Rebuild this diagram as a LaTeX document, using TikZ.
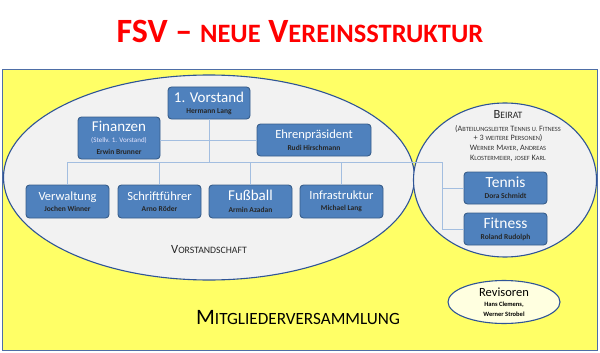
\documentclass[tikz,border=0pt]{standalone}
\usepackage{fontspec}
\setmainfont{Carlito}
\usetikzlibrary{shapes.geometric}
\makeatletter
\newcommand\lc[1]{{\fontsize{\strip@pt\dimexpr0.78\dimexpr\f@size pt\relax\relax}{0}\selectfont\MakeUppercase{#1}}}
\makeatother
\definecolor{yel}{HTML}{FFFF66}
\definecolor{ell}{HTML}{F2F2F2}
\definecolor{edge}{HTML}{2F5496}
\definecolor{boxf}{HTML}{4F81BD}
\definecolor{boxd}{HTML}{385D8A}
\definecolor{conn}{HTML}{A3BEE0}
\definecolor{rev}{HTML}{FFFFE0}
\definecolor{ttl}{HTML}{FF0000}
\tikzset{
  bluebox/.style={draw=boxd, line width=0.9pt, fill=boxf, rounded corners=3.5pt, align=center, inner sep=0pt, text=white},
  link/.style={draw=conn, line width=1pt},
}
\newcommand\nme[1]{{\fontsize{7.5}{8}\selectfont\bfseries\color{black!85}#1}}
\begin{document}
\begin{tikzpicture}[x=1pt,y=-1pt]
\useasboundingbox (0,0) rectangle (600,353);
\fill[white] (0,0) rectangle (600,353);
% title
\node[text=ttl, font=\fontsize{34}{34}\selectfont\bfseries] (title) at (300,31) {FSV – \lc{neue} V\lc{ereinsstruktur}};
% background
\draw[edge!85, line width=1pt, fill=yel] (2,70) rectangle (597,350);
\node[draw=edge, line width=1.1pt, fill=ell, ellipse, minimum width=411pt, minimum height=205pt, inner sep=0pt] (vs) at (209,177.5) {};
\node[draw=edge, line width=1.1pt, fill=ell, ellipse, minimum width=183pt, minimum height=154pt, inner sep=0pt] (br) at (505,180) {};
% coordinates
\coordinate (busL) at (67.5,162);
\coordinate (busR) at (442,162);
% boxes
\node[bluebox, minimum width=82pt, minimum height=32pt] (v1) at (209,103) {{\fontsize{15}{16}\selectfont 1. Vorstand}\\[-1pt]\nme{Hermann Lang}};
\node[bluebox, minimum width=82pt, minimum height=42pt] (fin) at (119,138) {{\fontsize{15}{16}\selectfont Finanzen}\\[-1pt]{\fontsize{7}{8}\selectfont\color{blue!10}(Stellv. 1. Vorstand)}\\[-0.5pt]\nme{Erwin Brunner}};
\node[bluebox, minimum width=114pt, minimum height=32pt] (ehr) at (314,140) {{\fontsize{12.5}{13}\selectfont Ehrenpräsident}\\[-0.5pt]\nme{Rudi Hirschmann}};
\node[bluebox, minimum width=83pt, minimum height=33pt] (verw) at (67.5,201.5) {{\fontsize{12.5}{13}\selectfont Verwaltung}\\[-0.5pt]\nme{Jochen Winner}};
\node[bluebox, minimum width=83pt, minimum height=33pt] (schr) at (159.5,201.5) {{\fontsize{12.5}{13}\selectfont Schriftführer}\\[-0.5pt]\nme{Arno Röder}};
\node[bluebox, minimum width=83pt, minimum height=33pt] (fuss) at (250.5,201.5) {{\fontsize{15}{15}\selectfont Fußball}\\[-0.5pt]\nme{Armin Azadan}};
\node[bluebox, minimum width=83pt, minimum height=33pt] (infra) at (341.5,201.5) {{\fontsize{12.5}{13}\selectfont Infrastruktur}\\[-0.5pt]\nme{Michael Lang}};
\node[bluebox, minimum width=83pt, minimum height=32pt] (tennis) at (505.5,188) {{\fontsize{15.5}{16}\selectfont Tennis}\\[-1pt]\nme{Dora Schmidt}};
\node[bluebox, minimum width=83pt, minimum height=32pt] (fit) at (505.5,229) {{\fontsize{15.5}{16}\selectfont Fitness}\\[-1pt]\nme{Roland Rudolph}};
% connectors
\path[link] (v1.south) -- (v1.south |- busL);
\path[link] (fin.east |- ehr.west) -- (ehr.west);
\path[link] (busL) -- (busR) |- (fit.west);
\path[link] (busR |- tennis.west) -- (tennis.west);
\path[link] (verw.north) -- (verw.north |- busL);
\path[link] (schr.north) -- (schr.north |- busL);
\path[link] (fuss.north) -- (fuss.north |- busL);
\path[link] (infra.north) -- (infra.north |- busL);
% labels
\node[font=\fontsize{12.5}{13}\selectfont, text=black!85] (vsl) at (209,250) {V\lc{orstandschaft}};
\node[font=\fontsize{12.5}{13}\selectfont, text=black!85] (brl) at (508,114) {B\lc{eirat}};
\node[font=\fontsize{8.2}{9.8}\selectfont, text=black!80, align=center, anchor=north] (brt) at (508,121.5) {(A\lc{bteilungsleiter} T\lc{ennis u.} F\lc{itness}\\+ 3 \lc{weitere} P\lc{ersonen})\\W\lc{erner} M\lc{ayer}, A\lc{ndreas}\\K\lc{lostermeier}, \lc{josef} K\lc{arl}};
\node[font=\fontsize{22}{22}\selectfont, text=black] (mv) at (298,318) {M\lc{itgliederversammlung}};
\node[draw=edge, line width=1.1pt, fill=rev, ellipse, minimum width=112pt, minimum height=43pt, inner sep=0pt, align=center, font=\fontsize{6.5}{9.5}\selectfont] (rv) at (504,302) {{\fontsize{12.5}{13}\selectfont Revisoren}\\[1pt]{\bfseries Hans Clemens,}\\{\bfseries Werner Strobel}};
\end{tikzpicture}
\end{document}
